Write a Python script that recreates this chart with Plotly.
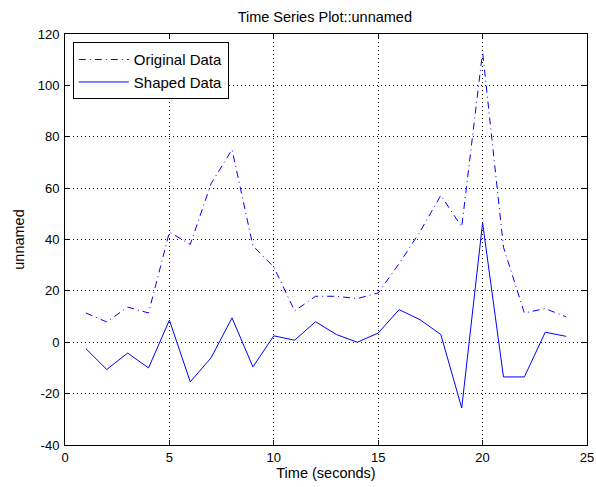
import plotly.graph_objects as go

time_s = list(range(1, 25))
original_data = [11.4, 7.9, 13.7, 11.4, 42.9, 38.1, 61.8, 75.0, 37.5, 29.3, 12.2, 17.9,
                 17.9, 17.0, 19.2, 30.6, 43.0, 57.2, 44.9, 113.0, 37.0, 11.4, 13.1, 9.9]
shaped_data = [-2.5, -10.6, -4.2, -10.0, 8.6, -15.4, -6.0, 9.5, -9.6, 2.5, 0.8, 8.0,
               3.0, 0.0, 3.6, 12.7, 8.8, 3.0, -25.6, 46.5, -13.5, -13.5, 3.9, 2.3]
x_ticks = [0, 5, 10, 15, 20, 25]
y_ticks = [-40, -20, 0, 20, 40, 60, 80, 100, 120]

fig = go.Figure()
fig.add_trace(go.Scatter(x=time_s, y=original_data, mode="lines", name="Original Data",
                         line=dict(color="rgb(0,0,255)", width=1, dash="7px,4px,1px,4px")))
fig.add_trace(go.Scatter(x=time_s, y=shaped_data, mode="lines", name="Shaped Data",
                         line=dict(color="rgb(0,0,255)", width=1)))

axis_common = dict(
    showline=True, linecolor="black", linewidth=1, mirror="ticks",
    ticks="inside", ticklen=5, tickcolor="black",
    showgrid=True, gridcolor="black", gridwidth=1, griddash="1px,3px",
    zeroline=False, tickfont=dict(size=13, color="black"), automargin=False,
)

fig.update_xaxes(range=[0, 25], tickvals=x_ticks, ticktext=[str(v) for v in x_ticks],
                 title=dict(text="Time (seconds)", font=dict(size=14.5, color="black"), standoff=2),
                 **axis_common)
fig.update_yaxes(range=[-40, 120], tickvals=y_ticks, ticktext=[str(v) for v in y_ticks],
                 title=dict(text="unnamed", font=dict(size=14.5, color="black"), standoff=9),
                 ticklabelstandoff=2, **axis_common)

fig.update_layout(
    width=596, height=487,
    margin=dict(l=65, r=9, t=34, b=42),
    paper_bgcolor="white", plot_bgcolor="white",
    font=dict(family="Liberation Sans, Arial, sans-serif", size=13, color="black"),
    title=dict(text="Time Series Plot::unnamed", x=0.545, xanchor="center", y=0.965, yanchor="middle",
               font=dict(size=14.5, color="black")),
    legend=dict(x=0.015, y=0.98, xanchor="left", yanchor="top",
                bgcolor="white", bordercolor="black", borderwidth=1,
                font=dict(size=15, color="black"), tracegroupgap=0, itemwidth=50),
    showlegend=True,
)

fig.write_html("out.html", config={"displayModeBar": False},
               post_script="document.body.style.margin='0';document.body.style.padding='0';")
